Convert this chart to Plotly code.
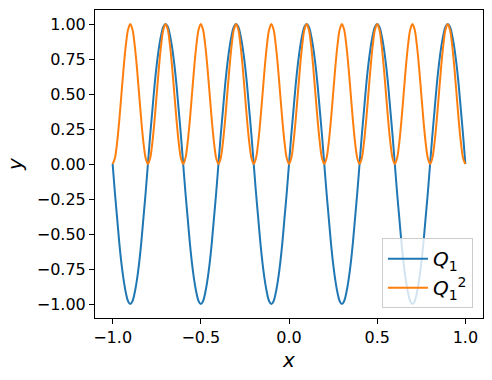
import plotly.graph_objects as go

x_vals = [-1.0, -0.9875, -0.975, -0.9625, -0.95, -0.9375, -0.925, -0.9125,
          -0.9, -0.8875, -0.875, -0.8625, -0.85, -0.8375, -0.825, -0.8125,
          -0.8, -0.7875, -0.775, -0.7625, -0.75, -0.7375, -0.725, -0.7125,
          -0.7, -0.6875, -0.675, -0.6625, -0.65, -0.6375, -0.625, -0.6125,
          -0.6, -0.5875, -0.575, -0.5625, -0.55, -0.5375, -0.525, -0.5125,
          -0.5, -0.4875, -0.475, -0.4625, -0.45, -0.4375, -0.425, -0.4125,
          -0.4, -0.3875, -0.375, -0.3625, -0.35, -0.3375, -0.325, -0.3125,
          -0.3, -0.2875, -0.275, -0.2625, -0.25, -0.2375, -0.225, -0.2125,
          -0.2, -0.1875, -0.175, -0.1625, -0.15, -0.1375, -0.125, -0.1125,
          -0.1, -0.0875, -0.075, -0.0625, -0.05, -0.0375, -0.025, -0.0125,
          0.0, 0.0125, 0.025, 0.0375, 0.05, 0.0625, 0.075, 0.0875,
          0.1, 0.1125, 0.125, 0.1375, 0.15, 0.1625, 0.175, 0.1875,
          0.2, 0.2125, 0.225, 0.2375, 0.25, 0.2625, 0.275, 0.2875,
          0.3, 0.3125, 0.325, 0.3375, 0.35, 0.3625, 0.375, 0.3875,
          0.4, 0.4125, 0.425, 0.4375, 0.45, 0.4625, 0.475, 0.4875,
          0.5, 0.5125, 0.525, 0.5375, 0.55, 0.5625, 0.575, 0.5875,
          0.6, 0.6125, 0.625, 0.6375, 0.65, 0.6625, 0.675, 0.6875,
          0.7, 0.7125, 0.725, 0.7375, 0.75, 0.7625, 0.775, 0.7875,
          0.8, 0.8125, 0.825, 0.8375, 0.85, 0.8625, 0.875, 0.8875,
          0.9, 0.9125, 0.925, 0.9375, 0.95, 0.9625, 0.975, 0.9875,
          1.0]

q1_vals = [0, -0.2, -0.38, -0.56, -0.71, -0.83, -0.92, -0.98,
           -1, -0.98, -0.92, -0.83, -0.71, -0.56, -0.38, -0.2,
           0, 0.2, 0.38, 0.56, 0.71, 0.83, 0.92, 0.98,
           1, 0.98, 0.92, 0.83, 0.71, 0.56, 0.38, 0.2,
           0, -0.2, -0.38, -0.56, -0.71, -0.83, -0.92, -0.98,
           -1, -0.98, -0.92, -0.83, -0.71, -0.56, -0.38, -0.2,
           0, 0.2, 0.38, 0.56, 0.71, 0.83, 0.92, 0.98,
           1, 0.98, 0.92, 0.83, 0.71, 0.56, 0.38, 0.2,
           0, -0.2, -0.38, -0.56, -0.71, -0.83, -0.92, -0.98,
           -1, -0.98, -0.92, -0.83, -0.71, -0.56, -0.38, -0.2,
           0, 0.2, 0.38, 0.56, 0.71, 0.83, 0.92, 0.98,
           1, 0.98, 0.92, 0.83, 0.71, 0.56, 0.38, 0.2,
           0, -0.2, -0.38, -0.56, -0.71, -0.83, -0.92, -0.98,
           -1, -0.98, -0.92, -0.83, -0.71, -0.56, -0.38, -0.2,
           0, 0.2, 0.38, 0.56, 0.71, 0.83, 0.92, 0.98,
           1, 0.98, 0.92, 0.83, 0.71, 0.56, 0.38, 0.2,
           0, -0.2, -0.38, -0.56, -0.71, -0.83, -0.92, -0.98,
           -1, -0.98, -0.92, -0.83, -0.71, -0.56, -0.38, -0.2,
           0, 0.2, 0.38, 0.56, 0.71, 0.83, 0.92, 0.98,
           1, 0.98, 0.92, 0.83, 0.71, 0.56, 0.38, 0.2,
           0]

q1sq_vals = [0, 0.04, 0.15, 0.31, 0.5, 0.69, 0.85, 0.96,
             1, 0.96, 0.85, 0.69, 0.5, 0.31, 0.15, 0.04,
             0, 0.04, 0.15, 0.31, 0.5, 0.69, 0.85, 0.96,
             1, 0.96, 0.85, 0.69, 0.5, 0.31, 0.15, 0.04,
             0, 0.04, 0.15, 0.31, 0.5, 0.69, 0.85, 0.96,
             1, 0.96, 0.85, 0.69, 0.5, 0.31, 0.15, 0.04,
             0, 0.04, 0.15, 0.31, 0.5, 0.69, 0.85, 0.96,
             1, 0.96, 0.85, 0.69, 0.5, 0.31, 0.15, 0.04,
             0, 0.04, 0.15, 0.31, 0.5, 0.69, 0.85, 0.96,
             1, 0.96, 0.85, 0.69, 0.5, 0.31, 0.15, 0.04,
             0, 0.04, 0.15, 0.31, 0.5, 0.69, 0.85, 0.96,
             1, 0.96, 0.85, 0.69, 0.5, 0.31, 0.15, 0.04,
             0, 0.04, 0.15, 0.31, 0.5, 0.69, 0.85, 0.96,
             1, 0.96, 0.85, 0.69, 0.5, 0.31, 0.15, 0.04,
             0, 0.04, 0.15, 0.31, 0.5, 0.69, 0.85, 0.96,
             1, 0.96, 0.85, 0.69, 0.5, 0.31, 0.15, 0.04,
             0, 0.04, 0.15, 0.31, 0.5, 0.69, 0.85, 0.96,
             1, 0.96, 0.85, 0.69, 0.5, 0.31, 0.15, 0.04,
             0, 0.04, 0.15, 0.31, 0.5, 0.69, 0.85, 0.96,
             1, 0.96, 0.85, 0.69, 0.5, 0.31, 0.15, 0.04,
             0]

x_ticks = [-1.0, -0.5, 0.0, 0.5, 1.0]
x_tick_labels = ["\u22121.0", "\u22120.5", "0.0", "0.5", "1.0"]
y_ticks = [-1.0, -0.75, -0.5, -0.25, 0.0, 0.25, 0.5, 0.75, 1.0]
y_tick_labels = ["\u22121.00", "\u22120.75", "\u22120.50", "\u22120.25", "0.00",
                 "0.25", "0.50", "0.75", "1.00"]

series_names = ["<i>Q</i><sub>1</sub>", "<i>Q</i><sub>1</sub><sup>2</sup>"]

fig = go.Figure()
fig.add_trace(go.Scatter(x=x_vals, y=q1_vals, mode="lines", name=series_names[0],
                         line=dict(color="#1f77b4", width=2, shape="spline")))
fig.add_trace(go.Scatter(x=x_vals, y=q1sq_vals, mode="lines", name=series_names[1],
                         line=dict(color="#ff7f0e", width=2, shape="spline")))

axis_common = dict(showline=True, linecolor="black", linewidth=1, mirror=True,
                   ticks="outside", ticklen=5, tickwidth=1, tickcolor="black",
                   showgrid=False, zeroline=False, automargin=False,
                   tickfont=dict(family="DejaVu Sans", size=16, color="black"))

fig.update_layout(
    width=492, height=380,
    margin=dict(l=95, r=9, t=10, b=62),
    plot_bgcolor="white", paper_bgcolor="white",
    font=dict(family="DejaVu Sans", color="black"),
    xaxis=dict(range=[-1.1, 1.1], tickvals=x_ticks, ticktext=x_tick_labels,
               title=dict(text="<i>x</i>", font=dict(size=20), standoff=6),
               **axis_common),
    yaxis=dict(range=[-1.1, 1.1], tickvals=y_ticks, ticktext=y_tick_labels,
               title=dict(text="<i>y</i>", font=dict(size=20), standoff=8),
               **axis_common),
    legend=dict(x=0.974, y=0.032, xanchor="right", yanchor="bottom",
                bgcolor="rgba(255,255,255,0.8)", bordercolor="#cccccc", borderwidth=1,
                font=dict(family="DejaVu Sans", size=20, color="black"),
                itemwidth=40),
    showlegend=True,
)

fig.write_html("out.html", config={"displayModeBar": False},
               post_script="document.body.style.margin='0';document.body.style.overflow='hidden';")
